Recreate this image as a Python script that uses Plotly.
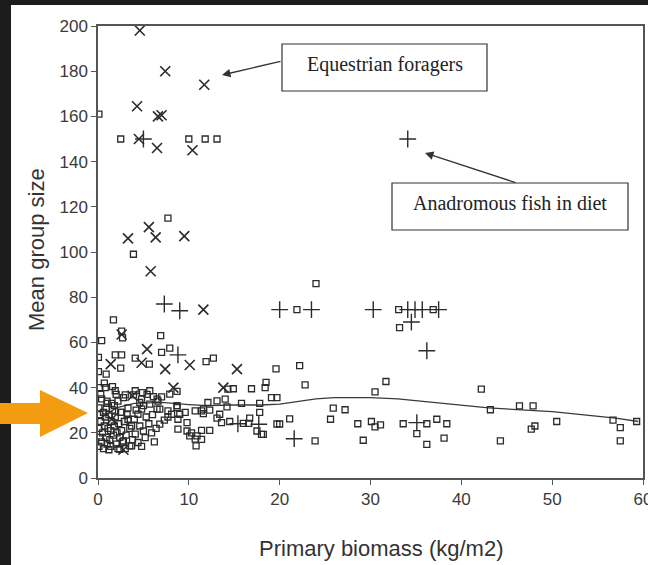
import plotly.graph_objects as go

# ---------------- data ----------------
sq_x = [0.1, 2.5, 10.0, 11.8, 13.1, 7.7, 3.9, 1.7, 2.6, 2.7, 6.9,
        24.0, 21.9, 33.1, 36.9, 33.2,
        0.4, 7.0, 7.9, 4.1, 5.65, 1.9, 2.6, 2.5, 0.05, 0.05, 0.9,
        11.9, 12.7, 19.6, 22.2,
        0.2, 0.8, 1.6, 1.9, 8.7, 3.0, 3.9, 4.9, 5.7, 2.8, 7.0, 7.9, 4.1, 5.4, 6.1, 6.6, 4.8, 5.0, 5.7, 6.5,
        4.4, 2.6, 3.3, 3.7, 5.0, 4.4, 3.5, 2.4, 5.2, 4.1,
        5.9, 6.4, 6.8, 7.3, 7.7, 8.1, 8.7, 8.8, 8.8, 9.6, 9.8, 9.8, 10.3, 10.1, 10.9, 10.7, 11.4, 10.8,
        11.4, 10.7, 6.8, 7.7, 8.7, 9.0, 6.5, 4.6, 4.8, 3.7, 2.8,
        14.3, 14.9, 16.9, 18.4, 18.5, 22.8, 19.7, 19.1, 17.8, 15.8, 17.8, 16.7, 16.0, 16.6, 14.5, 13.6,
        13.1, 13.4, 12.3, 14.2, 14.0, 13.1, 12.1, 11.6, 11.6, 11.4, 12.3, 17.5, 18.0, 18.2, 19.7, 20.0,
        21.1, 23.9,
        30.5, 31.7, 42.2, 25.9, 27.2, 43.2, 46.4, 47.9, 25.6, 28.6, 30.1, 30.5, 31.1, 33.6, 36.2, 37.3,
        38.4, 35.1, 29.2, 36.2, 38.1, 44.3, 47.7, 48.1, 50.5, 56.7, 57.5, 57.5, 59.3,
        0.1, 0.2, 0.1, 0.3, 0.2, 0.1, 0.4, 0.5, 0.6, 0.7, 0.8, 0.9, 1.0, 1.0, 0.9, 1.0, 0.6, 0.4,
        1.2, 1.3, 1.4, 1.5, 1.2, 1.6, 1.4, 1.7, 1.8, 1.9, 2.0, 2.1, 2.2, 2.3, 2.4, 2.5, 1.1, 1.8, 2.2,
        2.6, 2.7, 2.9, 3.0, 3.1, 3.3, 3.5, 3.8, 4.0, 4.2, 4.6, 4.8, 5.3, 5.6, 6.0, 6.2, 3.2, 2.0, 1.5,
        0.3, 0.7]
sq_y = [161, 150, 150, 150, 150, 115, 99, 70, 65, 62, 63,
        86, 74.5, 74.5, 74.5, 66.5,
        60.8, 55.6, 57.5, 53, 50.4, 54.5, 54.5, 48.6, 53.4, 47.1, 46,
        51.5, 53, 48.3, 49.7,
        40, 40, 40.4, 38.6, 38.3, 36.8, 36.8, 37.8, 38.6, 35.6, 35.9, 37.1, 38.6, 37, 36, 34, 34.9, 32, 32.7, 30.5,
        28.2, 29, 26, 23, 20.8, 15.7, 14.2, 12.7, 17.9, 19.4,
        20, 22, 23.8, 25.6, 27, 28.2, 32, 26, 21.6, 29, 24.5, 20.8, 20, 18.6, 18.6, 17.2, 17.1, 14.2,
        29.7, 29.7, 30.5, 29.7, 31.2, 28.2, 34.9, 33.4, 30.5, 14.2, 16.4,
        39.3, 39.5, 39.5, 40, 42.3, 41.2, 35.6, 35.6, 33, 33, 29, 26.5, 24.2, 24.2, 25, 24.5,
        26.5, 28.2, 30, 31.5, 34.9, 34.1, 33.4, 30.5, 28.5, 21.1, 21.1, 20.8, 19.3, 19.3, 23.9, 23.9,
        26.2, 16.4,
        38.1, 42.7, 39.3, 30.9, 30.2, 30.2, 31.9, 31.9, 26, 24, 25, 22.6, 23.5, 24, 24, 26,
        24, 19.6, 16.7, 14.9, 17.6, 16.4, 21.6, 23, 25, 25.6, 22.3, 16.4, 25,
        14, 18, 22, 25, 28, 31, 16, 20, 13, 23, 27, 31, 34, 33, 18, 15, 29, 35,
        12.5, 17, 21, 25, 28, 30, 14, 19, 23, 27, 15, 20, 13, 24, 18, 29, 22, 32, 34,
        21, 16, 25, 13, 19, 31, 22, 17, 26, 30, 23, 14, 27, 24, 28, 16, 28, 37, 33,
        37, 42]

eq_x = [4.6, 7.4, 11.7, 4.3, 6.6, 7.0, 4.5, 6.5, 10.4, 3.3, 5.6, 6.35, 9.5, 5.8, 11.6, 2.6,
        5.4, 10.1, 7.4, 4.8, 1.4, 8.3, 3.8, 15.3, 13.8, 1.5, 2.8]
eq_y = [198, 180, 174, 164.5, 160, 160.5, 150, 146, 145, 106, 111, 106.5, 107, 91.5, 74.5, 63.5,
        57, 50, 48.2, 51, 50.4, 40, 36.4, 48.2, 40, 26, 12.5]

fish_x = [5.0, 34.1, 7.3, 9.0, 20.0, 23.5, 30.3, 34.1, 34.9, 35.7, 37.5, 34.5, 36.2, 8.8,
          15.4, 17.7, 21.6, 35.1]
fish_y = [150, 150, 77, 74, 74.5, 74.5, 74.5, 74.5, 74.5, 74.5, 74.5, 69, 56.3, 54.5,
          24, 23.8, 17.4, 24.5]

fit_x = [0.5, 2, 4, 7, 10, 12, 15, 18, 20, 22, 24, 26, 30, 33, 37, 43, 50, 57, 59.5]
fit_y = [27, 31, 33, 33.5, 32.5, 32, 32.3, 32.3, 32.7, 34, 35, 35.6, 35.6, 35, 33.4, 31, 29.4, 26.5, 25]

x_ticks = [0, 10, 20, 30, 40, 50, 60]
y_ticks = [0, 20, 40, 60, 80, 100, 120, 140, 160, 180, 200]

# ---------------- figure ----------------
INK = "#2b2b2b"
W, H = 648, 565
L, R, T, B = 98, 5, 26, 87
PW, PH = W - L - R, H - T - B


def px(xp):
    return (xp - L) / PW


def py(yp):
    return (H - B - yp) / PH


fig = go.Figure()
fig.add_trace(go.Scatter(x=fit_x, y=fit_y, mode="lines", line=dict(color="#3a3a3a", width=1.3),
                         hoverinfo="skip"))
fig.add_trace(go.Scatter(x=sq_x, y=sq_y, mode="markers",
                         marker=dict(symbol="square-open", size=6, color=INK, line=dict(width=1.3, color=INK))))
fig.add_trace(go.Scatter(x=eq_x, y=eq_y, mode="markers",
                         marker=dict(symbol="x-thin-open", size=10, color=INK, line=dict(width=1.6, color=INK))))
fig.add_trace(go.Scatter(x=fish_x, y=fish_y, mode="markers",
                         marker=dict(symbol="cross-thin-open", size=12, color=INK, line=dict(width=1.4, color=INK))))

shapes = [
    # white page
    dict(type="rect", xref="paper", yref="paper", x0=px(11), x1=px(660), y0=py(575), y1=py(5),
         fillcolor="white", line=dict(width=0), layer="below"),
    # annotation boxes
    dict(type="rect", xref="paper", yref="paper", x0=px(282), x1=px(487), y0=py(91), y1=py(44),
         line=dict(color="#333", width=1.2), fillcolor="white", layer="above"),
    dict(type="rect", xref="paper", yref="paper", x0=px(392), x1=px(628), y0=py(230), y1=py(183),
         line=dict(color="#333", width=1.2), fillcolor="white", layer="above"),
]
# orange pointer arrow
pts = [(0, 403), (40, 403), (40, 390), (88, 413), (40, 437), (40, 424), (0, 424)]
path = "M " + " L ".join(f"{px(a):.4f},{py(b):.4f}" for a, b in pts) + " Z"
shapes.append(dict(type="path", xref="paper", yref="paper", path=path,
                   fillcolor="#F39C12", line=dict(width=0), layer="above"))

C = dict(xanchor="center", yanchor="middle", showarrow=False)
ann = [
    dict(xref="paper", yref="paper", x=px(385), y=py(64), text="Equestrian foragers", **C,
         font=dict(family="Liberation Serif, Times New Roman, serif", size=20, color="#222")),
    dict(xref="paper", yref="paper", x=px(510), y=py(203), text="Anadromous fish in diet", **C,
         font=dict(family="Liberation Serif, Times New Roman, serif", size=20, color="#222")),
    dict(xref="x", yref="y", x=(222 - L) / PW * 60, y=(H - B - 75) / PH * 200,
         axref="x", ayref="y", ax=(282 - L) / PW * 60, ay=(H - B - 61) / PH * 200,
         text="", showarrow=True, arrowhead=2, arrowsize=1.3, arrowwidth=1.3, arrowcolor="#333"),
    dict(xref="x", yref="y", x=(425 - L) / PW * 60, y=(H - B - 153) / PH * 200,
         axref="x", ayref="y", ax=(517 - L) / PW * 60, ay=(H - B - 183) / PH * 200,
         text="", showarrow=True, arrowhead=2, arrowsize=1.3, arrowwidth=1.3, arrowcolor="#333"),
    dict(xref="paper", yref="paper", x=px(381), y=py(548), text="Primary biomass (kg/m2)", **C,
         font=dict(family="Liberation Sans, Arial, sans-serif", size=22, color="#333")),
    dict(xref="paper", yref="paper", x=px(36), y=py(250), text="Mean group size", textangle=-90, **C,
         font=dict(family="Liberation Sans, Arial, sans-serif", size=22, color="#333")),
]

axis_common = dict(showgrid=False, zeroline=False, showline=True, linecolor="#555", linewidth=1.5,
                   mirror=True, ticks="outside", ticklen=5, tickcolor="#555", tickwidth=1.3,
                   ticklabeloverflow="allow", automargin=False,
                   tickfont=dict(family="Liberation Sans, Arial, sans-serif", size=17, color="#3a3a3a"))

fig.update_layout(
    width=W, height=H, margin=dict(l=L, r=R, t=T, b=B),
    paper_bgcolor="#1c1c1c", plot_bgcolor="white", showlegend=False,
    shapes=shapes, annotations=ann,
    xaxis=dict(range=[0, 60], tickvals=x_ticks, **axis_common),
    yaxis=dict(range=[0, 200], tickvals=y_ticks, **axis_common),
)

fig.write_html("out.html")
